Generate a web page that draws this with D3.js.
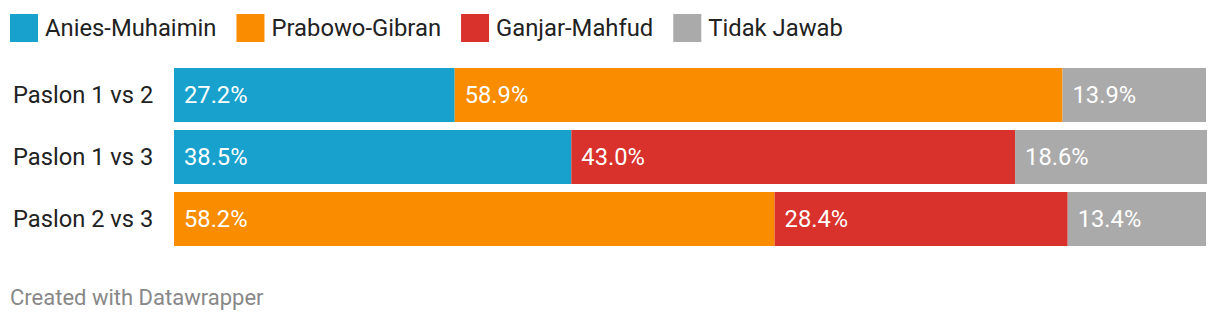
<!DOCTYPE html>
<html>
<head>
<meta charset="utf-8">
<script src="https://cdn.jsdelivr.net/npm/d3@7"></script>
<style>
  body { margin: 0; background: #fff; }
  svg { display: block; font-family: Roboto, "Noto Sans", sans-serif; }
</style>
</head>
<body>
<svg id="chart" width="1220" height="324"></svg>
<script>
// data
const categories = ['Paslon 1 vs 2', 'Paslon 1 vs 3', 'Paslon 2 vs 3'];
const seriesNames = ['Anies-Muhaimin', 'Prabowo-Gibran', 'Ganjar-Mahfud', 'Tidak Jawab'];
const aniesValues   = [27.2, 38.5, 0];
const prabowoValues = [58.9, 0, 58.2];
const ganjarValues  = [0, 43.0, 28.4];
const tidakValues   = [13.9, 18.6, 13.4];

const colors = ['#18a1cd', '#fa8c00', '#d9312b', '#aaaaaa'];

const svg = d3.select('#chart');

// stacked rows
let rows = categories.map((c, i) => ({
    cat: c,
    'Anies-Muhaimin': aniesValues[i],
    'Prabowo-Gibran': prabowoValues[i],
    'Ganjar-Mahfud': ganjarValues[i],
    'Tidak Jawab': tidakValues[i],
}));
let stacked = d3.stack().keys(seriesNames)(rows);

let plotLeft = 174, plotRight = 1206;

// X축
var xScale = d3.scaleLinear().domain([0, 100]).range([plotLeft, plotRight]);

// Y축
var yScale = d3.scaleBand()
    .domain(categories)
    .range([68, 246])
    .paddingInner(8 / 62);

let color = d3.scaleOrdinal().domain(seriesNames).range(colors);

// legend
let legend = svg.append('g').attr('class', 'legend');
let lx = 10;
seriesNames.forEach((name) => {
    let g = legend.append('g').attr('transform', `translate(${lx}, 14)`);
    g.append('rect').attr('width', 28).attr('height', 28).style('fill', color(name));
    let t = g.append('text')
        .attr('x', 35).attr('y', 14)
        .attr('dy', '0.35em')
        .style('font-size', '23.8px')
        .style('fill', '#222')
        .text(name);
    lx += 35 + t.node().getComputedTextLength() + 20;
});

// y labels
svg.append('g')
    .call(d3.axisLeft(yScale).tickSize(0).tickPadding(0))
    .attr('transform', 'translate(13, 0)')
    .call(g => g.select('.domain').remove())
    .selectAll('text')
    .attr('text-anchor', 'start')
    .style('font-family', 'Roboto, sans-serif')
    .style('font-size', '23.7px')
    .style('fill', '#222');

// bars
let layers = svg.append('g').selectAll('g')
    .data(stacked)
    .enter().append('g')
    .style('fill', d => color(d.key));

layers.selectAll('rect')
    .data(d => d.filter(p => p[1] - p[0] > 0))
    .enter().append('rect')
    .attr('x', d => xScale(d[0]))
    .attr('width', d => xScale(d[1]) - xScale(d[0]))
    .attr('y', d => yScale(d.data.cat))
    .attr('height', yScale.bandwidth());

// value labels
layers.selectAll('text')
    .data(d => d.filter(p => p[1] - p[0] > 0))
    .enter().append('text')
    .attr('x', d => xScale(d[0]) + 10)
    .attr('y', d => yScale(d.data.cat) + yScale.bandwidth() / 2)
    .attr('dy', '0.35em')
    .style('fill', '#fff')
    .style('font-size', '23.7px')
    .text(d => (d[1] - d[0]).toFixed(1) + '%');

// footer
svg.append('text')
    .attr('x', 10).attr('y', 305)
    .style('font-size', '22px')
    .style('fill', '#888')
    .text('Created with Datawrapper');
</script>
</body>
</html>
